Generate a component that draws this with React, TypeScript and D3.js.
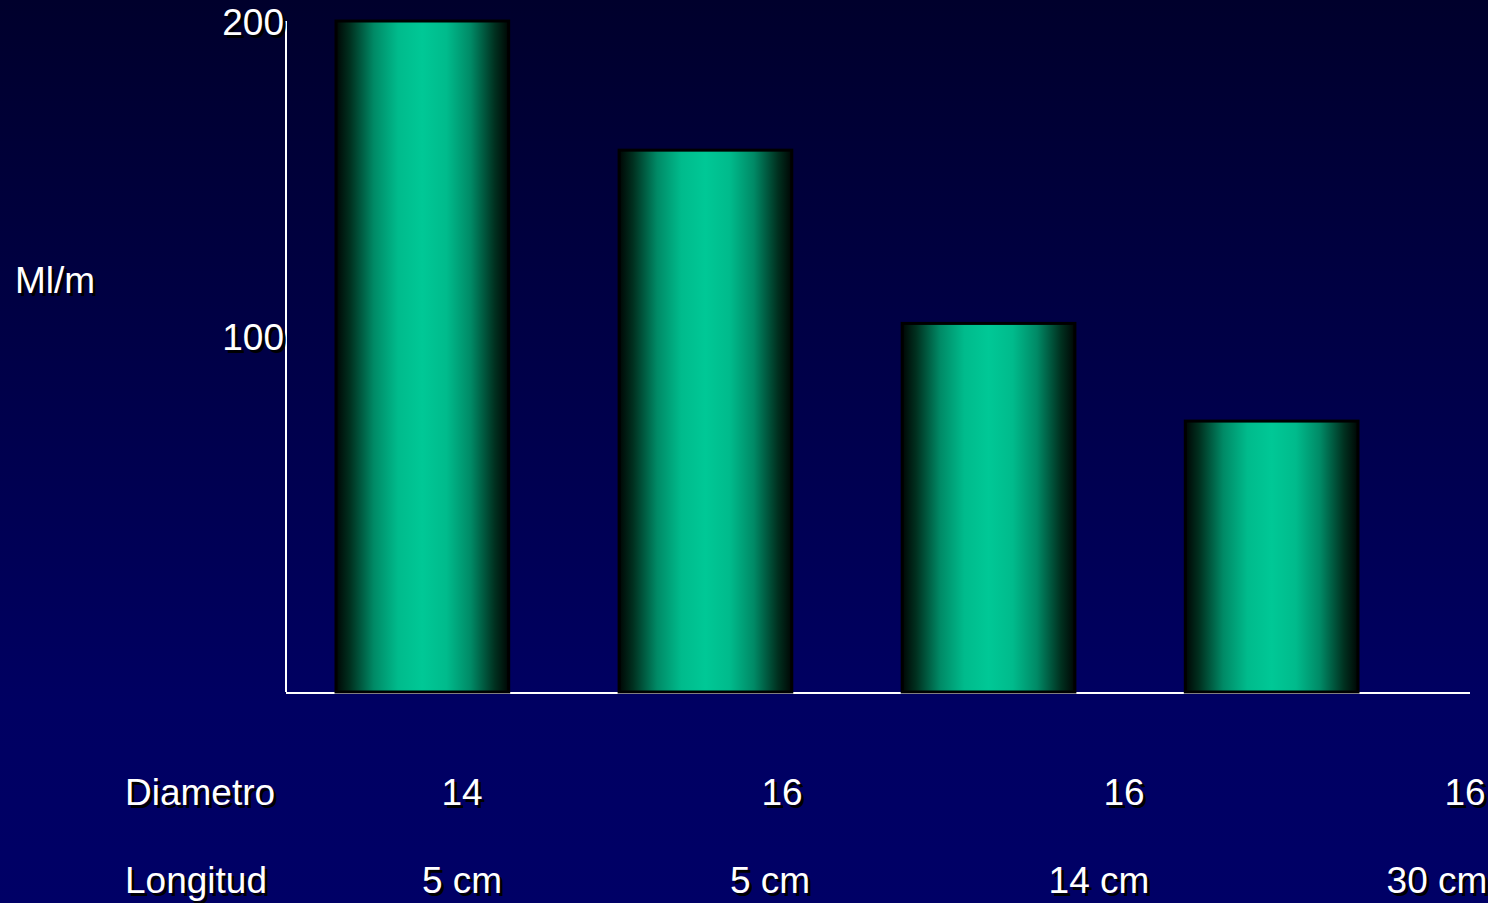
import React from "react";
import * as d3 from "d3";

// Flow per metre for each catheter (diameter / length combination)
const diametro = ["14", "16", "16", "16"];
const longitud = ["5 cm", "5 cm", "14 cm", "30 cm"];
const flujo = [200, 159, 104, 73];
const yTicks = [100, 200];

const W = 1488;
const H = 903;
const FONT = "'Liberation Sans', Arial, sans-serif";

// Column anchors of the small table under the chart
const diametroX = [462, 782, 1124, 1465];
const longitudX = [462, 770, 1099, 1437];

// White lettering with a hard black drop shadow
function ShadowText({ x, y, anchor = "start", children }: any) {
  return (
    <g fontFamily={FONT} fontSize={37} textAnchor={anchor}>
      <text x={x + 3} y={y + 3} fill="#000000">{children}</text>
      <text x={x} y={y} fill="#ffffff">{children}</text>
    </g>
  );
}

export default function App() {
  const cats = flujo.map((_, i) => `${diametro[i]}-${longitud[i]}`);
  const x = d3.scaleBand<string>().domain(cats).range([336, 1358]).paddingInner(0.39);
  const y = d3.scaleLinear().domain([-13, 200]).range([692, 21]);
  const base = y.range()[0];
  const axisX = 286;
  const axisRight = 1470;

  return (
    <svg width={W} height={H} style={{ position: "absolute", left: 0, top: 0, display: "block" }}>
      <defs>
        <linearGradient id="bg" x1="0" y1="0" x2="0" y2="1">
          <stop offset="0%" stopColor="#00002c" />
          <stop offset="78%" stopColor="#000062" />
          <stop offset="100%" stopColor="#000066" />
        </linearGradient>
        <linearGradient id="bar" x1="0" y1="0" x2="1" y2="0">
          <stop offset="0%" stopColor="#000604" />
          <stop offset="8%" stopColor="#00301f" />
          <stop offset="22%" stopColor="#008a66" />
          <stop offset="36%" stopColor="#00bb8c" />
          <stop offset="50%" stopColor="#00c896" />
          <stop offset="64%" stopColor="#00bb8c" />
          <stop offset="78%" stopColor="#008a66" />
          <stop offset="92%" stopColor="#00301f" />
          <stop offset="100%" stopColor="#000604" />
        </linearGradient>
      </defs>
      <rect x={0} y={0} width={W} height={H} fill="url(#bg)" />

      {/* axes */}
      <line x1={axisX} x2={axisX} y1={y(200)} y2={base} stroke="#ffffff" strokeWidth={2} />
      <line x1={axisX} x2={axisRight} y1={base + 1} y2={base + 1} stroke="#ffffff" strokeWidth={2} />

      {/* bars */}
      {flujo.map((v, i) => (
        <rect
          key={cats[i]}
          x={x(cats[i])!}
          y={y(v)}
          width={x.bandwidth()}
          height={base - y(v)}
          fill="url(#bar)"
          stroke="#000000"
          strokeWidth={3}
        />
      ))}

      {/* y tick labels */}
      {yTicks.map((t) => (
        <ShadowText key={t} x={axisX - 2} y={y(t) + 14} anchor="end">
          {t}
        </ShadowText>
      ))}

      <ShadowText x={15} y={293}>Ml/m</ShadowText>

      {/* table under the chart */}
      <ShadowText x={125} y={805}>Diametro</ShadowText>
      {diametro.map((d, i) => (
        <ShadowText key={"d" + i} x={diametroX[i]} y={805} anchor="middle">{d}</ShadowText>
      ))}
      <ShadowText x={125} y={893}>Longitud</ShadowText>
      {longitud.map((d, i) => (
        <ShadowText key={"l" + i} x={longitudX[i]} y={893} anchor="middle">{d}</ShadowText>
      ))}
    </svg>
  );
}
